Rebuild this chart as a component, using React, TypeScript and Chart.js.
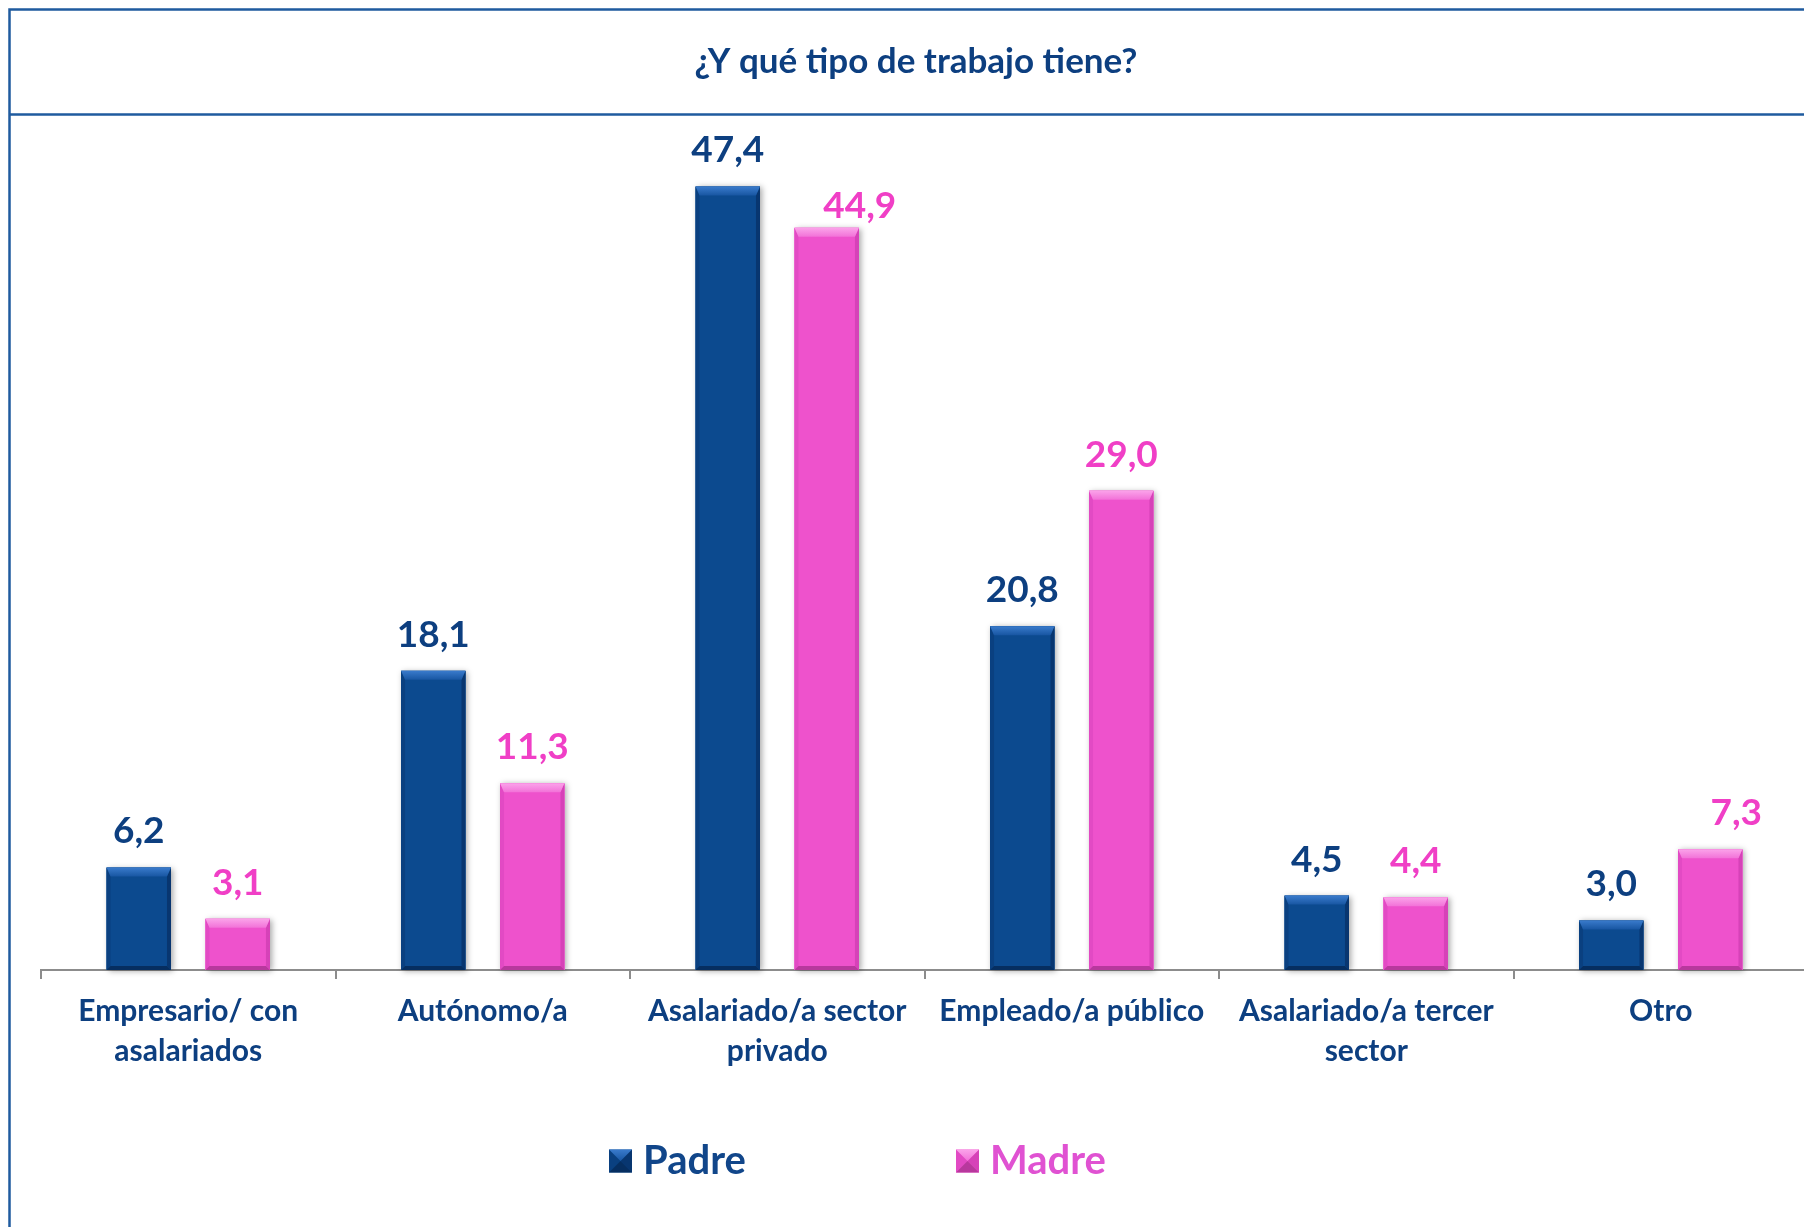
import React, { useEffect, useRef } from 'react';
import { Chart, registerables } from 'chart.js';

Chart.register(...registerables);

const titleText = '¿Y qué tipo de trabajo tiene?';
const categories: string[][] = [
  ['Empresario/ con', 'asalariados'],
  ['Autónomo/a'],
  ['Asalariado/a sector', 'privado'],
  ['Empleado/a público'],
  ['Asalariado/a tercer', 'sector'],
  ['Otro'],
];
const seriesNames = ['Padre', 'Madre'];
const padreValues = [6.2, 18.1, 47.4, 20.8, 4.5, 3.0];
const madreValues = [3.1, 11.3, 44.9, 29.0, 4.4, 7.3];

const FONT = 'Lato, "Open Sans", sans-serif';
const NAVY = '#0d3f80';

const palettes = [
  { face: '#0c4a8f', topA: '#3a7bcc', topB: '#1856a2', left: '#0a4080', right: '#083670', bottom: '#062e60', label: '#0d3f80', legend: '#11468a' },
  { face: '#ee52cc', topA: '#fba3ea', topB: '#f272d8', left: '#e24ac4', right: '#d642b8', bottom: '#b8389d', label: '#f03fc6', legend: '#e052d2' },
];

// label nudges for overlapping labels [dataset-index] -> [dx, dy]
const labelNudges: Record<string, [number, number]> = {
  '1-2': [33, 14],
  '1-5': [26, 0],
};

function poly(ctx: CanvasRenderingContext2D, pts: number[][], color: any) {
  ctx.beginPath();
  ctx.moveTo(pts[0][0], pts[0][1]);
  for (let i = 1; i < pts.length; i++) ctx.lineTo(pts[i][0], pts[i][1]);
  ctx.closePath();
  ctx.fillStyle = color;
  ctx.fill();
}

function bevel(ctx: CanvasRenderingContext2D, l: number, t: number, r: number, btm: number, tb: number, sb: number, p: any) {
  const h = btm - t;
  const bt = Math.min(tb, h / 2, (r - l) / 2);
  const bs = Math.min(sb, h / 2, (r - l) / 2);
  ctx.fillStyle = p.face;
  ctx.fillRect(l, t, r - l, h);
  poly(ctx, [[l, t], [l + bs, t + bt], [l + bs, btm - bs], [l, btm]], p.left);
  poly(ctx, [[r, t], [r, btm], [r - bs, btm - bs], [r - bs, t + bt]], p.right);
  poly(ctx, [[l, btm], [r, btm], [r - bs, btm - bs], [l + bs, btm - bs]], p.bottom);
  const g = ctx.createLinearGradient(0, t, 0, t + bt);
  g.addColorStop(0, p.topA);
  g.addColorStop(1, p.topB);
  poly(ctx, [[l, t], [r, t], [r - bs, t + bt], [l + bs, t + bt]], g);
}

const decoPlugin = {
  id: 'deco',
  beforeDraw(chart: any) {
    const ctx = chart.ctx as CanvasRenderingContext2D;
    ctx.save();
    ctx.fillStyle = '#ffffff';
    ctx.fillRect(0, 0, chart.width, chart.height);
    ctx.strokeStyle = '#1f5b9f';
    ctx.lineWidth = 2.5;
    ctx.beginPath();
    ctx.moveTo(9.5, 1227);
    ctx.lineTo(9.5, 9.5);
    ctx.lineTo(chart.width, 9.5);
    ctx.moveTo(9.5, 114.5);
    ctx.lineTo(chart.width, 114.5);
    ctx.stroke();
    ctx.fillStyle = NAVY;
    ctx.font = `bold 35px ${FONT}`;
    ctx.textAlign = 'center';
    ctx.textBaseline = 'middle';
    ctx.fillText(titleText, 916, 62);
    ctx.restore();
  },
  beforeDatasetsDraw(chart: any) {
    const ctx = chart.ctx as CanvasRenderingContext2D;
    ctx.save();
    chart.data.datasets.forEach((_: any, di: number) => {
      chart.getDatasetMeta(di).data.forEach((bar: any) => {
        const l = bar.x - bar.width / 2;
        ctx.shadowColor = 'rgba(0,0,0,0.35)';
        ctx.shadowBlur = 6;
        ctx.shadowOffsetX = 2;
        ctx.shadowOffsetY = 1;
        ctx.fillStyle = '#ffffff';
        ctx.fillRect(l, bar.y, bar.width, bar.base - bar.y);
      });
    });
    ctx.restore();
  },
  afterDatasetsDraw(chart: any) {
    const ctx = chart.ctx as CanvasRenderingContext2D;
    ctx.save();
    chart.data.datasets.forEach((ds: any, di: number) => {
      const p = palettes[di];
      chart.getDatasetMeta(di).data.forEach((bar: any, i: number) => {
        const l = bar.x - bar.width / 2;
        const r = bar.x + bar.width / 2;
        bevel(ctx, l, bar.y, r, bar.base, 9, 4, p);
        const nudge = labelNudges[`${di}-${i}`] || [0, 0];
        ctx.fillStyle = p.label;
        ctx.font = `bold 37px ${FONT}`;
        ctx.textAlign = 'center';
        ctx.textBaseline = 'middle';
        const v = ds.data[i] as number;
        ctx.fillText(v.toFixed(1).replace('.', ','), bar.x + nudge[0], bar.y - 36 + nudge[1]);
      });
    });
    // legend
    const legendItems = [
      { box: 609, text: 643 },
      { box: 956, text: 990 },
    ];
    const ly = 1161;
    chart.data.datasets.forEach((ds: any, di: number) => {
      const p = palettes[di];
      const it = legendItems[di];
      bevel(ctx, it.box, ly - 11.5, it.box + 23, ly + 11.5, 11.5, 11.5, p);
      ctx.fillStyle = p.legend;
      ctx.font = `bold 40px ${FONT}`;
      ctx.textAlign = 'left';
      ctx.textBaseline = 'middle';
      ctx.fillText(ds.label, it.text, ly);
    });
    ctx.restore();
  },
};

export default function App() {
  const ref = useRef<HTMLCanvasElement | null>(null);
  useEffect(() => {
    if (!ref.current) return;
    const chart = new Chart(ref.current, {
      type: 'bar',
      data: {
        labels: categories,
        datasets: [
          { label: seriesNames[0], data: padreValues, backgroundColor: palettes[0].face, borderWidth: 0 },
          { label: seriesNames[1], data: madreValues, backgroundColor: palettes[1].face, borderWidth: 0 },
        ],
      },
      options: {
        responsive: false,
        animation: false,
        devicePixelRatio: 1,
        categoryPercentage: 0.672,
        barPercentage: 0.651,
        layout: { padding: { top: 143.5, left: 41, right: 4, bottom: 0 } },
        plugins: {
          legend: { display: false },
          title: { display: false },
          tooltip: { enabled: false },
        },
        scales: {
          y: { display: false, min: 0, max: 50 },
          x: {
            afterFit: (scale: any) => {
              scale.height = 257;
            },
            grid: {
              display: true,
              drawOnChartArea: false,
              drawTicks: true,
              tickLength: 9,
              color: '#8c8c8c',
              lineWidth: 2,
              offset: true,
            },
            border: { display: true, color: '#8c8c8c', width: 2 },
            ticks: {
              color: NAVY,
              padding: 13,
              maxRotation: 0,
              autoSkip: false,
              font: { family: FONT, size: 30, weight: 'bold', lineHeight: 1.32 },
            },
          },
        },
      },
      plugins: [decoPlugin],
    } as any);
    return () => chart.destroy();
  }, []);
  return (
    <div style={{ position: 'fixed', left: 0, top: 0, width: 1804, height: 1227, overflow: 'hidden', background: '#fff' }}>
      <canvas ref={ref} width={1812} height={1227} style={{ display: 'block', width: 1812, height: 1227 }} />
    </div>
  );
}
